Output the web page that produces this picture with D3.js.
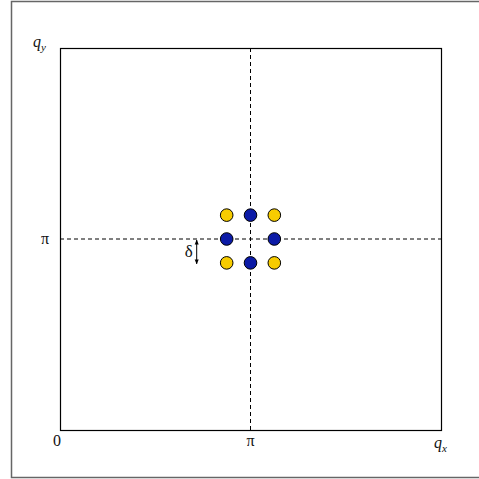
<!DOCTYPE html>
<html>
<head>
<meta charset="utf-8">
<script src="https://cdn.jsdelivr.net/npm/d3@7"></script>
<style>
  html, body { margin: 0; padding: 0; background: #fff; overflow: hidden; }
  svg { display: block; }
</style>
</head>
<body>
<svg id="chart" width="479" height="479"></svg>
<script>
// Momentum-space points, in units of π, around (π, π) with offset δ = π/8
const delta = 1 / 8;
const pointQx = [1 - delta, 1, 1 + delta, 1 - delta, 1 + delta, 1 - delta, 1, 1 + delta];
const pointQy = [1 + delta, 1 + delta, 1 + delta, 1, 1, 1 - delta, 1 - delta, 1 - delta];
const pointKind = ["yellow", "blue", "yellow", "blue", "blue", "yellow", "blue", "yellow"];
const tickValues = [0, 1];
const tickLabels = ["0", "π"];
const kindColor = { blue: "#0b1aa6", yellow: "#f7cc00" };

const svg = d3.select("#chart");
const box = { left: 60, right: 441, top: 48, bottom: 430 };

const x = d3.scaleLinear().domain([0, 2]).range([box.left, box.right]);
const y = d3.scaleLinear().domain([0, 2]).range([box.bottom, box.top]);

// outer frame
svg.append("rect")
  .attr("x", 11.5).attr("y", 1.5)
  .attr("width", 480).attr("height", 476)
  .attr("fill", "none").attr("stroke", "#666").attr("stroke-width", 1.5);

// plot box
svg.append("rect")
  .attr("x", box.left + 0.5).attr("y", box.top + 0.5)
  .attr("width", box.right - box.left).attr("height", box.bottom - box.top)
  .attr("fill", "none").attr("stroke", "#000").attr("stroke-width", 1.2);

// dashed guide lines through (π, π)
svg.append("line")
  .attr("x1", x(1)).attr("x2", x(1))
  .attr("y1", y(0)).attr("y2", y(2))
  .attr("stroke", "#000").attr("stroke-width", 1).attr("stroke-dasharray", "4,3");
svg.append("line")
  .attr("x1", x(0)).attr("x2", x(2))
  .attr("y1", y(1)).attr("y2", y(1))
  .attr("stroke", "#000").attr("stroke-width", 1).attr("stroke-dasharray", "4,3");

const font = "'Liberation Serif', 'DejaVu Serif', serif";

// x tick labels
svg.selectAll(".xt").data(tickValues).enter().append("text")
  .attr("x", d => x(d) - (d === 0 ? 3 : 0)).attr("y", 446)
  .attr("text-anchor", "middle")
  .attr("font-family", font).attr("font-size", 16).attr("fill", "#111")
  .text((d, i) => tickLabels[i]);

// y tick label (π only)
svg.append("text")
  .attr("x", 45).attr("y", y(1) + 5)
  .attr("text-anchor", "middle")
  .attr("font-family", font).attr("font-size", 16).attr("fill", "#111")
  .text(tickLabels[1]);

// axis names
const qy = svg.append("text")
  .attr("x", 33).attr("y", 47)
  .attr("font-family", font).attr("font-size", 16).attr("font-style", "italic").attr("fill", "#111");
qy.append("tspan").text("q");
qy.append("tspan").attr("font-size", 11).attr("dy", 4).text("y");

const qx = svg.append("text")
  .attr("x", 434).attr("y", 448)
  .attr("font-family", font).attr("font-size", 16).attr("font-style", "italic").attr("fill", "#111");
qx.append("tspan").text("q");
qx.append("tspan").attr("font-size", 11).attr("dy", 4).text("x");

// δ marker: double-headed arrow spanning one offset
const ax = x(1 - delta) - 30;
const defs = svg.append("defs");
defs.append("marker")
  .attr("id", "head").attr("viewBox", "0 0 10 10")
  .attr("refX", 9).attr("refY", 5)
  .attr("markerWidth", 5).attr("markerHeight", 5)
  .attr("orient", "auto-start-reverse")
  .append("path").attr("d", "M0,1 L10,5 L0,9 Z").attr("fill", "#000");
svg.append("line")
  .attr("x1", ax).attr("x2", ax)
  .attr("y1", y(1) + 1).attr("y2", y(1 - delta) + 1)
  .attr("stroke", "#000").attr("stroke-width", 1)
  .attr("marker-start", "url(#head)").attr("marker-end", "url(#head)");
svg.append("text")
  .attr("x", ax - 4).attr("y", (y(1) + y(1 - delta)) / 2 + 6)
  .attr("text-anchor", "end")
  .attr("font-family", font).attr("font-size", 17).attr("fill", "#111")
  .text("δ");

// points
svg.selectAll(".pt").data(pointQx).enter().append("circle")
  .attr("cx", d => x(d))
  .attr("cy", (d, i) => y(pointQy[i]))
  .attr("r", 6.3)
  .attr("fill", (d, i) => kindColor[pointKind[i]])
  .attr("stroke", "#000").attr("stroke-width", 1);
</script>
</body>
</html>
